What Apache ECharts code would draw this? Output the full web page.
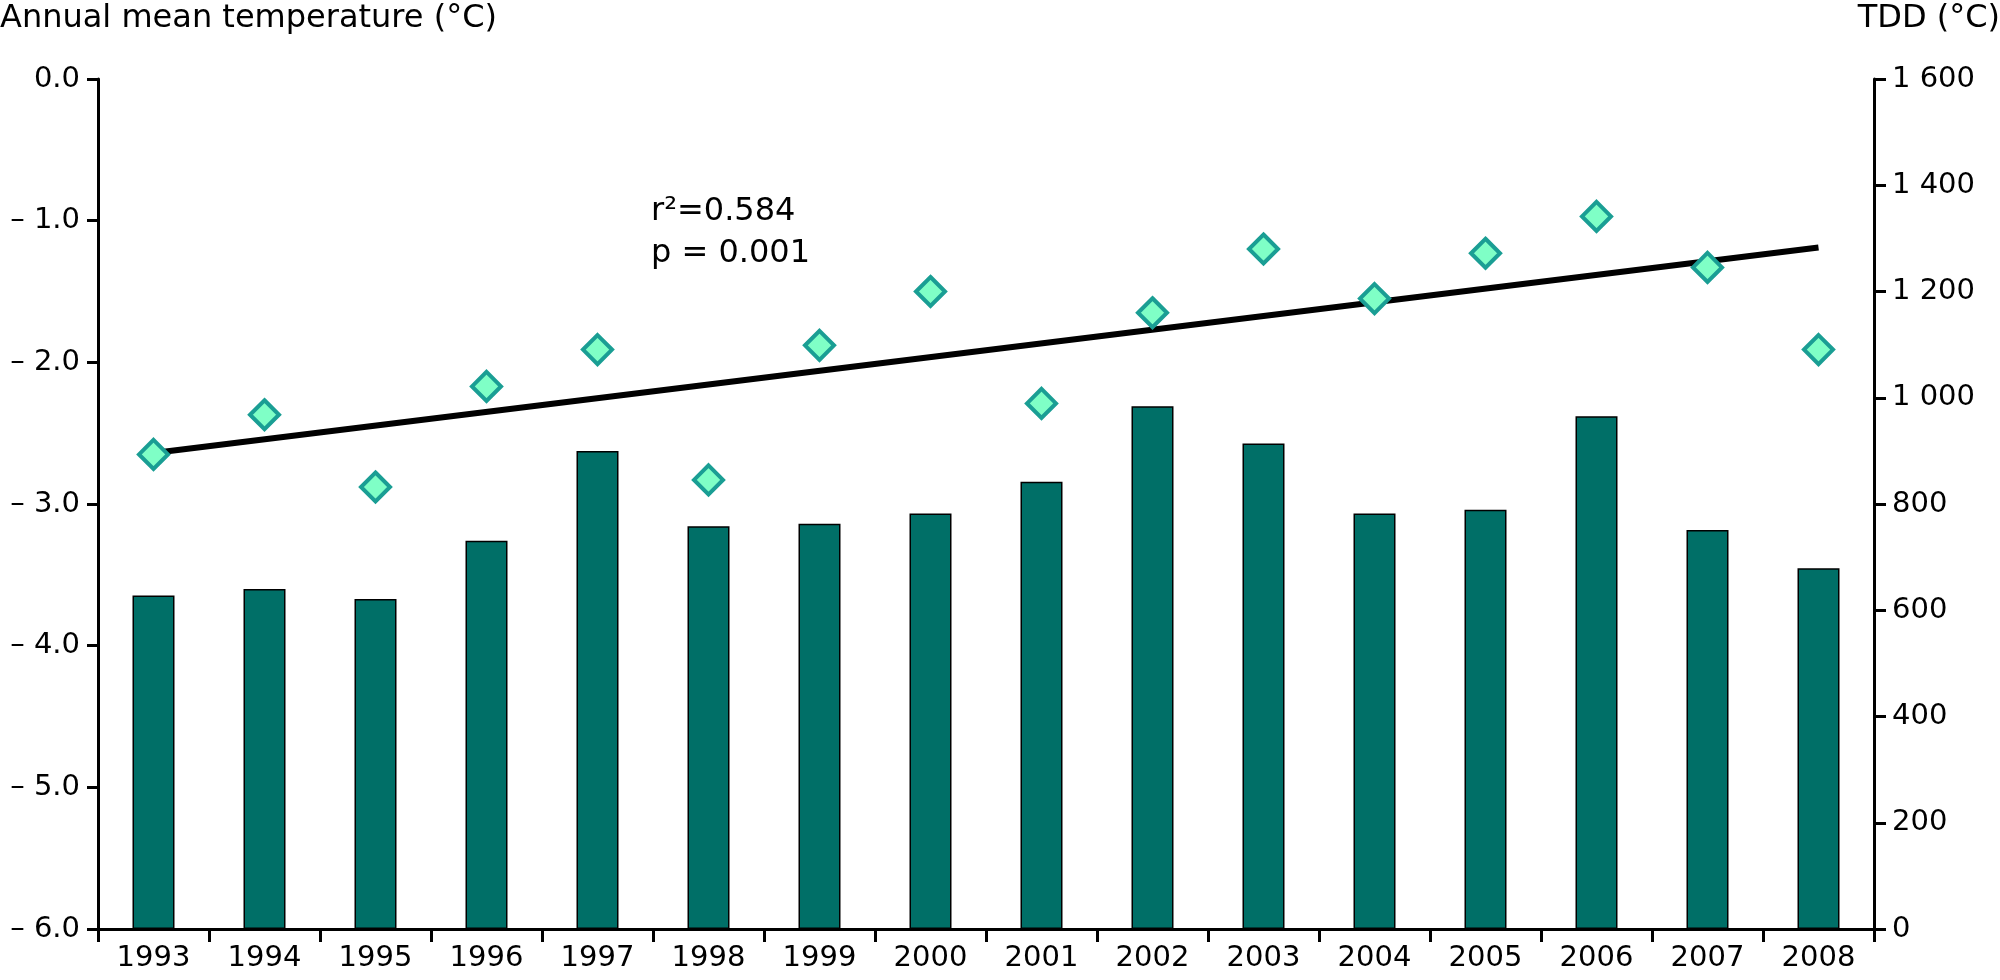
<!DOCTYPE html>
<html>
<head>
<meta charset="utf-8">
<script src="https://cdn.jsdelivr.net/npm/echarts@6/dist/echarts.min.js"></script>
<style>
html,body{margin:0;padding:0;background:#fff;}
#chart{width:2000px;height:980px;}
</style>
</head>
<body>
<div id="chart"></div>
<script>
const years = ['1993','1994','1995','1996','1997','1998','1999','2000','2001','2002','2003','2004','2005','2006','2007','2008'];
const tdd = [628, 640, 621, 731, 900, 758, 763, 782, 842, 984, 914, 782, 789, 965, 751, 679];
const meanTemp = [-2.65, -2.37, -2.88, -2.17, -1.91, -2.83, -1.88, -1.50, -2.29, -1.65, -1.20, -1.55, -1.23, -0.97, -1.33, -1.91];
const trendEnds = [-2.64, -1.19];
const leftTitle = 'Annual mean temperature (°C)';
const rightTitle = 'TDD (°C)';
const statLines = ['r²=0.584', 'p = 0.001'];

const FONT = 'Verdana, "DejaVu Sans", sans-serif';
const chart = echarts.init(document.getElementById('chart'));

function fmtTemp(v){
  if (Math.abs(v) < 1e-9) return '0.0';
  return (v < 0 ? '– ' : '') + Math.abs(v).toFixed(1);
}
function fmtTdd(v){
  return String(v).replace(/\B(?=(\d{3})+(?!\d))/g, ' ');
}

const option = {
  animation: false,
  backgroundColor: '#ffffff',
  textStyle: { fontFamily: FONT },
  grid: { left: 98, right: 126, top: 79, bottom: 51, containLabel: false },
  xAxis: {
    type: 'category',
    data: years,
    boundaryGap: true,
    axisLine: { show: true, onZero: false, lineStyle: { color: '#000', width: 3 } },
    axisTick: { show: true, alignWithLabel: false, length: 13, lineStyle: { color: '#000', width: 3 } },
    axisLabel: { color: '#000', fontSize: 29, fontFamily: FONT, margin: 15 },
    splitLine: { show: false }
  },
  yAxis: [
    {
      type: 'value', position: 'left', min: -6, max: 0, interval: 1,
      axisLine: { show: true, onZero: false, lineStyle: { color: '#000', width: 3 } },
      axisTick: { show: true, length: 11, lineStyle: { color: '#000', width: 3 } },
      axisLabel: { color: '#000', fontSize: 29, fontFamily: FONT, margin: 18, formatter: fmtTemp },
      splitLine: { show: false }
    },
    {
      type: 'value', position: 'right', min: 0, max: 1600, interval: 200,
      axisLine: { show: true, onZero: false, lineStyle: { color: '#000', width: 3 } },
      axisTick: { show: true, length: 12, lineStyle: { color: '#000', width: 3 } },
      axisLabel: { color: '#000', fontSize: 29, fontFamily: FONT, margin: 18, formatter: fmtTdd },
      splitLine: { show: false }
    }
  ],
  graphic: [
    { type: 'text', left: 0, top: 3, style: { text: leftTitle, fill: '#000', font: '32px ' + FONT } },
    { type: 'text', right: 0, top: 3, style: { text: rightTitle, fill: '#000', font: '32px ' + FONT } },
    { type: 'text', left: 651, top: 191, style: { text: statLines.join('\n'), fill: '#000', font: '32px ' + FONT, lineHeight: 42 } }
  ],
  series: [
    {
      name: 'TDD', type: 'bar', yAxisIndex: 1, data: tdd, barWidth: 42, z: 1,
      itemStyle: { color: '#006f67', borderColor: '#000', borderWidth: 1.5 }
    },
    {
      name: 'Trend', type: 'line', yAxisIndex: 0, z: 3,
      data: [[years[0], trendEnds[0]], [years[years.length - 1], trendEnds[1]]],
      symbol: 'none', lineStyle: { color: '#000', width: 6 }
    },
    {
      name: 'Annual mean temperature', type: 'scatter', yAxisIndex: 0, data: meanTemp, z: 4,
      symbol: 'diamond', symbolSize: 29,
      itemStyle: { color: '#7fffc6', borderColor: '#1a9e94', borderWidth: 4, opacity: 1 }
    }
  ]
};
chart.setOption(option);
</script>
</body>
</html>
